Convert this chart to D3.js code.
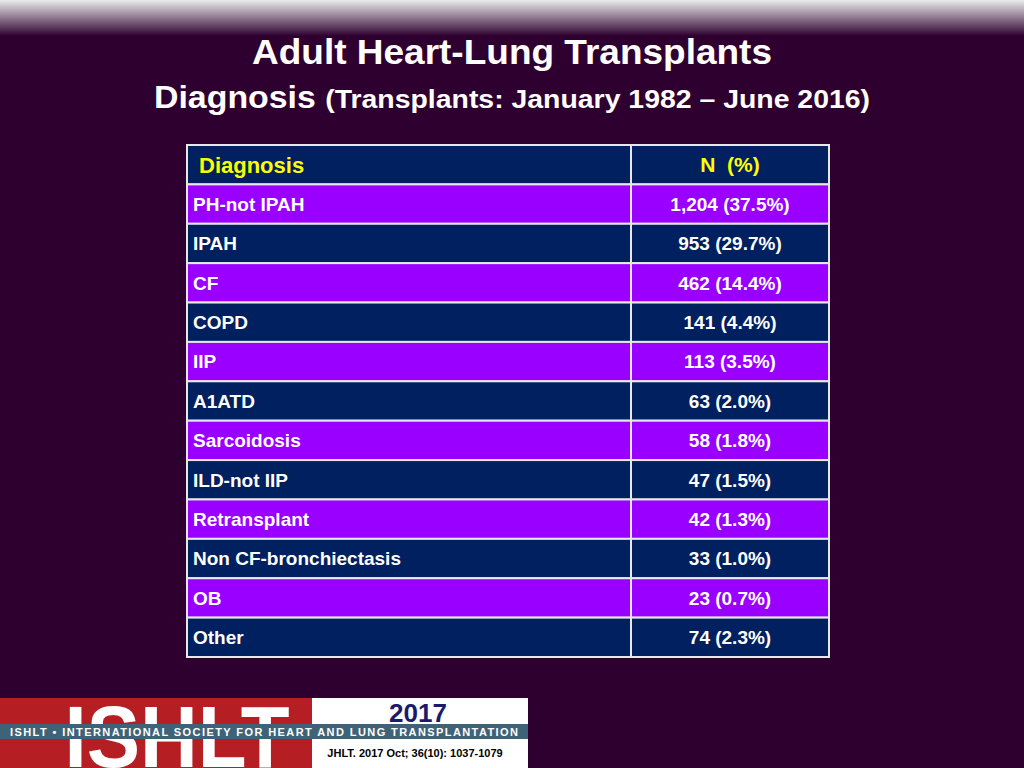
<!DOCTYPE html>
<html><head><meta charset="utf-8">
<script src="https://cdn.jsdelivr.net/npm/d3@7"></script>
<style>body{margin:0;background:#2e0030;}svg{display:block;}</style>
</head><body>
<svg id="chart" width="1024" height="768"></svg>
<script>
// table data
const diagnoses = ["PH-not IPAH", "IPAH", "CF", "COPD", "IIP", "A1ATD", "Sarcoidosis",
  "ILD-not IIP", "Retransplant", "Non CF-bronchiectasis", "OB", "Other"];
const counts = [1204, 953, 462, 141, 113, 63, 58, 47, 42, 33, 23, 74];
const percents = [37.5, 29.7, 14.4, 4.4, 3.5, 2.0, 1.8, 1.5, 1.3, 1.0, 0.7, 2.3];

const svg = d3.select("#chart");
const font = "Liberation Sans, Arial, sans-serif";

svg.append("rect").attr("width", 1024).attr("height", 768).attr("fill", "#2e0030");

// top fading band
const defs = svg.append("defs");
const g = defs.append("linearGradient").attr("id", "top").attr("x1", 0).attr("x2", 0).attr("y1", 0).attr("y2", 1);
g.append("stop").attr("offset", 0).attr("stop-color", "#ececec");
g.append("stop").attr("offset", 1).attr("stop-color", "#2e0030");
svg.append("rect").attr("width", 1024).attr("height", 36).attr("fill", "url(#top)");

// titles
svg.append("text").attr("x", 512).attr("y", 64).attr("text-anchor", "middle")
  .attr("fill", "#fff").attr("font-family", font).attr("font-weight", "bold").attr("font-size", 35)
  .attr("textLength", 520).attr("lengthAdjust", "spacingAndGlyphs").text("Adult Heart-Lung Transplants");
const sub = svg.append("text").attr("x", 512).attr("y", 108).attr("text-anchor", "middle")
  .attr("fill", "#fff").attr("font-family", font).attr("font-weight", "bold")
  .attr("textLength", 716).attr("lengthAdjust", "spacingAndGlyphs");
sub.append("tspan").attr("font-size", 31).text("Diagnosis ");
sub.append("tspan").attr("font-size", 26).text("(Transplants: January 1982 \u2013 June 2016)");

// table
const x0 = 187, x1 = 631, x2 = 829;
const y = d3.scaleBand().domain(d3.range(diagnoses.length + 1)).range([145, 657]);
const fmt = d3.format(",");
const rows = [{d: "Diagnosis", n: "N  (%)", head: true}].concat(
  diagnoses.map((d, i) => ({d, n: `${fmt(counts[i])} (${percents[i].toFixed(1)}%)`})));

const row = svg.selectAll("g.row").data(rows).enter().append("g")
  .attr("transform", (d, i) => `translate(0,${y(i)})`);
row.append("rect").attr("x", x0).attr("width", x2 - x0).attr("height", y.bandwidth())
  .attr("fill", (d, i) => i % 2 === 0 ? "#002060" : "#9900ff")
  .attr("stroke", "#e8e8e8").attr("stroke-width", 2);
row.append("line").attr("x1", x1).attr("x2", x1).attr("y1", 0).attr("y2", y.bandwidth())
  .attr("stroke", "#e8e8e8").attr("stroke-width", 2);
row.append("text").attr("x", d => d.head ? 199 : 193).attr("y", y.bandwidth() / 2)
  .attr("dy", "0.36em").attr("font-family", font).attr("font-weight", "bold")
  .attr("font-size", d => d.head ? 22 : 19).attr("fill", d => d.head ? "#ffff00" : "#fff")
  .text(d => d.d);
row.append("text").attr("x", (x1 + x2) / 2).attr("y", y.bandwidth() / 2).attr("text-anchor", "middle")
  .attr("dy", "0.36em").attr("font-family", font).attr("font-weight", "bold")
  .attr("font-size", d => d.head ? 21 : 19).attr("fill", d => d.head ? "#ffff00" : "#fff")
  .attr("xml:space", "preserve")
  .text(d => d.n);

// logo
const lg = svg.append("g");
lg.append("rect").attr("x", 0).attr("y", 698).attr("width", 312).attr("height", 70).attr("fill", "#b51f24");
lg.append("rect").attr("x", 312).attr("y", 698).attr("width", 216).attr("height", 70).attr("fill", "#fff");
lg.append("text").attr("x", 177).attr("y", 767).attr("text-anchor", "middle").attr("fill", "#fff")
  .attr("font-family", font).attr("font-weight", "bold").attr("font-size", 88).attr("textLength", 225)
  .attr("lengthAdjust", "spacingAndGlyphs").text("ISHLT");
lg.append("rect").attr("x", 0).attr("y", 724).attr("width", 528).attr("height", 15).attr("fill", "#3e6377");
lg.append("text").attr("x", 10).attr("y", 736).attr("fill", "#fff").attr("font-family", font)
  .attr("font-weight", "bold").attr("font-size", 11).attr("textLength", 508).attr("lengthAdjust", "spacing")
  .text("ISHLT \u2022 INTERNATIONAL SOCIETY FOR HEART AND LUNG TRANSPLANTATION");
lg.append("text").attr("x", 418).attr("y", 722).attr("text-anchor", "middle").attr("fill", "#1a1a6e")
  .attr("font-family", font).attr("font-weight", "bold").attr("font-size", 26).text("2017");
lg.append("text").attr("x", 415).attr("y", 757).attr("text-anchor", "middle").attr("fill", "#000")
  .attr("font-family", font).attr("font-weight", "bold").attr("font-size", 11).text("JHLT. 2017 Oct; 36(10): 1037-1079");
</script>
</body></html>
